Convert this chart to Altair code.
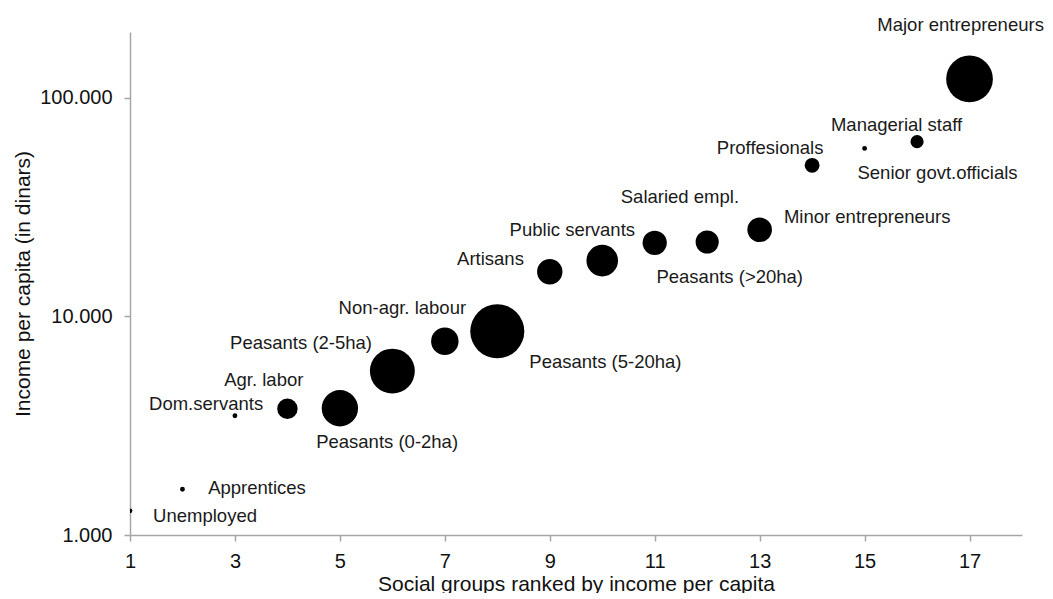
import altair as alt
import pandas as pd

groups = ["Unemployed", "Apprentices", "Dom.servants", "Agr. labor", "Peasants (0-2ha)",
          "Peasants (2-5ha)", "Non-agr. labour", "Peasants (5-20ha)", "Artisans",
          "Public servants", "Salaried empl.", "Peasants (>20ha)", "Minor entrepreneurs",
          "Proffesionals", "Senior govt.officials", "Managerial staff", "Major entrepreneurs"]
rank = list(range(1, 18))
income = [1290, 1620, 3510, 3780, 3800, 5620, 7700, 8550, 16000, 18000, 21700, 21900,
          24900, 49100, 58700, 63000, 122000]
bubble = [0.3, 0.3, 0.3, 5.3, 16.8, 25.7, 9.6, 37.2, 8.2, 12.7, 7.5, 6.8, 7.7, 2.8, 0.3, 2.2, 27.8]

# label anchor points (in data units)
label_x = [2.43, 3.42, 2.45, 3.55, 5.90, 4.26, 6.19, 10.06, 7.87, 9.43, 11.48, 12.43,
           15.05, 13.20, 16.39, 15.61, 16.83]
label_y = [1220, 1636, 3981, 5117, 2650, 7536, 10872, 6180, 18350, 24860, 35130, 15200,
           28480, 58640, 45130, 75400, 214700]

x_ticks = [1, 3, 5, 7, 9, 11, 13, 15, 17]
y_ticks = [1000, 10000, 100000]

df = pd.DataFrame({"group": groups, "rank": rank, "income": income, "bubble": bubble,
                   "lx": label_x, "ly": label_y})

FONT = "Liberation Sans"

xscale = alt.Scale(domain=[1, 18], nice=False, zero=False)
yscale = alt.Scale(type="log", domain=[1000, 200000], nice=False)

points = alt.Chart(df).mark_circle(color="black", opacity=1, clip=True).encode(
    x=alt.X("rank:Q", scale=xscale,
            axis=alt.Axis(values=x_ticks, title="Social groups ranked by income per capita",
                          labelPadding=10, titlePadding=2, labelFlush=False)),
    y=alt.Y("income:Q", scale=yscale,
            axis=alt.Axis(values=y_ticks, title="Income per capita (in dinars)",
                          labelExpr="replace(format(datum.value, ','), ',', '.')",
                          labelPadding=12, titlePadding=6, labelFlush=False)),
    size=alt.Size("bubble:Q", scale=alt.Scale(type="linear", domain=[0, 40], range=[0, 3141.6]),
                  legend=None),
)

labels = alt.Chart(df).mark_text(font=FONT, fontSize=18.5, color="#1a1a1a", align="center",
                                 baseline="middle").encode(
    x=alt.X("lx:Q", scale=xscale),
    y=alt.Y("ly:Q", scale=yscale),
    text="group:N",
)

chart = alt.layer(points, labels).properties(
    width=892, height=503,
    autosize=alt.AutoSizeParams(type="none"),
    padding={"left": 122, "top": 24, "right": 23, "bottom": 58},
    background="white",
).configure_view(stroke=None).configure_axis(
    grid=False,
    domainColor="#a6a6a6", domainWidth=1.5,
    tickColor="#a6a6a6", tickWidth=1.5, tickSize=6,
    labelFont=FONT, labelFontSize=20, labelColor="#111",
    titleFont=FONT, titleFontSize=21, titleFontWeight="normal", titleColor="#111",
)

chart.save("out.html", embed_options={"renderer": "svg", "actions": False})
